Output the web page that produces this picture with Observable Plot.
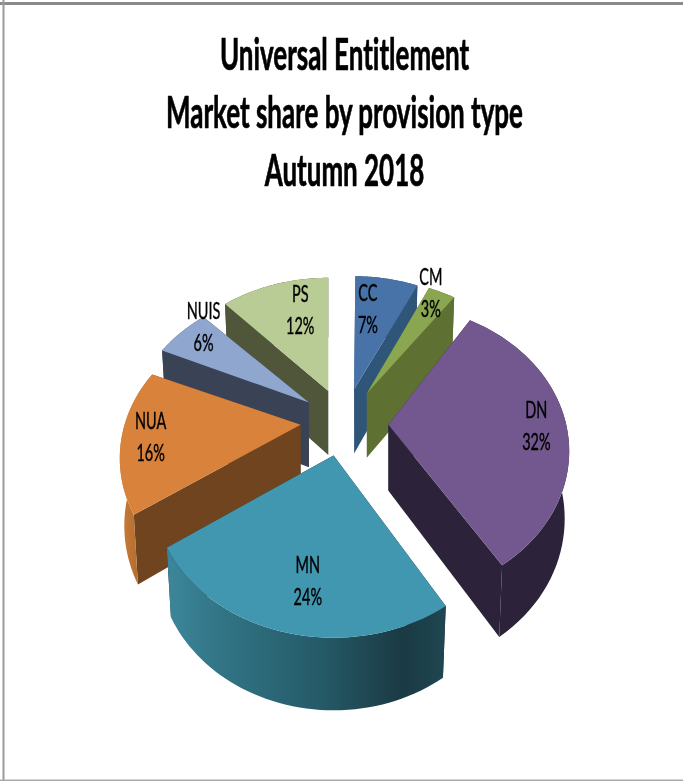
<!DOCTYPE html>
<html>
<head>
<meta charset="utf-8">
<script src="https://cdn.jsdelivr.net/npm/d3@7"></script>
<script src="https://cdn.jsdelivr.net/npm/@observablehq/plot@0.6"></script>
<style>
html,body{margin:0;padding:0;background:#fff;overflow:hidden}
svg{display:block;filter:blur(0.45px)}
text{font-variant-ligatures:none}
</style>
</head>
<body>
<div id="chart"></div>
<script>
// ---- chart values
const titleLines = ["Universal Entitlement", "Market share by provision type", "Autumn 2018"];
const names = ["CC", "CM", "DN", "MN", "NUA", "NUIS", "PS"];
const shares = [7, 3, 32, 24, 16, 6, 12];

// ---- slice styling
const topColors = ["#4773a8", "#8aa650", "#72588e", "#4197af", "#d9823c", "#8fa6cf", "#b9cc95"];
const cutColors = ["#2f5579", "#5e7133", "#2c2239", "#2c2239", "#6f441e", "#3a4356", "#4f5639"];
const rimColors = ["#2f5579", "#5e7133", "#2c2239", "url(#mnRim)", "url(#nuaRim)", "#3a4356", "#4f5639"];
const paintOrder = [0, 1, 2, 6, 5, 4, 3];

// ---- pie projection (perspective ellipse, exploded slices)
const cx = 344, cy = 422, ex = 44, ey = 34;
const a = 176, b = 139, p = 0.229, depth = 66;
const sliceTurn = [0.5, 0, -2.5, -2, -2, -1, 0];  // degrees, the drawing's own slight skew
const rimLift = [0, -1, -7, 2, 0, 0, 0];          // pixels
const labelFrac = 0.6;
const labelNudgeX = [-5, 19, 41, 8, -43, -30, 4];
const labelNudgeY = [-14, -40, -4, 22, 7, -32, -17];

const total = d3.sum(shares);
const cum = d3.cumsum(shares);
const slices = names.map((name, i) => {
  const turn = sliceTurn[i] * Math.PI / 180;
  const t0 = ((cum[i] - shares[i]) / total) * 2 * Math.PI;
  const t1 = (cum[i] / total) * 2 * Math.PI;
  const mid = (t0 + t1) / 2;
  return {name, i, share: shares[i], t0: t0 + turn, t1: t1 + turn, mid,
    ax: cx + ex * Math.sin(mid), ay: cy - ey * Math.cos(mid)};
});
const rimOffset = (t) => {
  const d = 1 + p * Math.cos(t);
  return [a * Math.sin(t) / d, -b * Math.cos(t) / d];
};
const wall = (u) => depth * (1 - 0.1 * u);
const rimTop = (s, t) => {
  const [dx, dy] = rimOffset(t);
  return {x: s.ax + dx, y: s.ay + dy + rimLift[s.i]};
};
const rimBottom = (s, t) => {
  const [dx, dy] = rimOffset(t);
  return {x: s.ax + dx * 0.975, y: s.ay + dy + rimLift[s.i] + wall(Math.cos(t))};
};
const apexTop = (s) => ({x: s.ax, y: s.ay});
const apexBottom = (s) => ({x: s.ax, y: s.ay + wall(0.3 * Math.cos(s.mid))});
const arcAngles = (s) => d3.range(0, 49).map((k) => s.t0 + (s.t1 - s.t0) * k / 48);

const shape = (pts, fill) => Plot.line(pts, {x: "x", y: "y", fill, stroke: "none"});

const sliceMarks = paintOrder.flatMap((i) => {
  const s = slices[i];
  const ts = arcAngles(s);
  return [
    shape([apexTop(s), rimTop(s, s.t0), rimBottom(s, s.t0), apexBottom(s)], cutColors[i]),
    shape([apexTop(s), rimTop(s, s.t1), rimBottom(s, s.t1), apexBottom(s)], cutColors[i]),
    shape([...ts.map((t) => rimTop(s, t)), ...ts.slice().reverse().map((t) => rimBottom(s, t))], rimColors[i]),
    shape([apexTop(s), ...ts.map((t) => rimTop(s, t))], topColors[i])
  ];
});

const labels = slices.map((s) => {
  const [dx, dy] = rimOffset(s.mid);
  const x = s.ax + labelFrac * dx + labelNudgeX[s.i];
  const y = s.ay + labelFrac * dy + labelNudgeY[s.i];
  return {x, nameY: y - 8, pctY: y + 24, name: s.name, pct: s.share + "%"};
});

const titleRows = titleLines.map((text, k) => ({text, x: 344, y: [69, 127, 185][k]}));

const gradient = (id, x1, x2, stops) => () => {
  const g = d3.create("svg:linearGradient")
    .attr("id", id).attr("gradientUnits", "userSpaceOnUse")
    .attr("x1", x1).attr("x2", x2).attr("y1", 0).attr("y2", 0);
  stops.forEach(([o, c]) => g.append("stop").attr("offset", o).attr("stop-color", c));
  const defs = d3.create("svg:defs");
  defs.append(() => g.node());
  return defs.node();
};

// The reference's lettering is squeezed horizontally: each text is scaled about its anchor.
const squeeze = (k) => (index, scales, values, dimensions, context, next) => {
  const g = next(index, scales, values, dimensions, context);
  g.querySelectorAll("text").forEach((el) => {
    el.setAttribute("transform", `${el.getAttribute("transform") || ""} scale(${k},1)`);
  });
  return g;
};

const chart = Plot.plot({
  width: 683, height: 781,
  margin: 0,
  x: {domain: [0, 683], range: [0, 683], axis: null},
  y: {domain: [0, 781], range: [0, 781], axis: null},
  style: {background: "#fff"},
  marks: [
    gradient("mnRim", 170, 443, [[0, "#3c8599"], [0.2, "#317384"], [0.55, "#255a68"], [0.85, "#1a3a44"], [1, "#1f4650"]]),
    gradient("nuaRim", 119, 141, [[0, "#cb7c39"], [1, "#b06a2e"]]),
    Plot.ruleY([3], {stroke: "#8a8a8a", strokeWidth: 3}),
    Plot.ruleX([3], {stroke: "#9a9a9a", strokeWidth: 2}),
    Plot.ruleY([780], {stroke: "#aaaaaa", strokeWidth: 2}),
    ...sliceMarks,
    Plot.text(titleRows, {x: "x", y: "y", text: "text", lineAnchor: "bottom", fontFamily: "Lato", fontWeight: 700, fontSize: 44, fill: "#000", stroke: "#000", strokeWidth: 0.7, render: squeeze(0.59)}),
    Plot.text(labels, {x: "x", y: "nameY", text: "name", lineAnchor: "bottom", fontFamily: "Lato", fontWeight: 400, fontSize: 23, fill: "#000", stroke: "#000", strokeWidth: 0.4, render: squeeze(0.63)}),
    Plot.text(labels, {x: "x", y: "pctY", text: "pct", lineAnchor: "bottom", fontFamily: "Lato", fontWeight: 400, fontSize: 23, fill: "#000", stroke: "#000", strokeWidth: 0.4, render: squeeze(0.63)})
  ]
});
document.getElementById("chart").append(chart);
</script>
</body>
</html>
